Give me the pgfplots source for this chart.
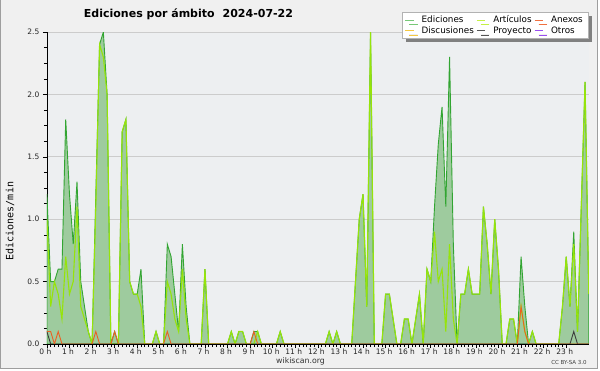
\documentclass[border=0pt]{standalone}
\usepackage{fontspec}
\setmainfont{DejaVu Sans}
\newfontfamily\monofont{DejaVu Sans Mono}
\usepackage{pgfplots}
\pgfplotsset{compat=1.18}
\usepackage{pgfplotstable}
\usetikzlibrary{shadows}

\definecolor{bgc}{RGB}{240,240,240}
\definecolor{plotbg}{RGB}{237,239,241}
\definecolor{gridc}{RGB}{204,204,204}
\definecolor{efill}{RGB}{158,203,158}
\definecolor{eline}{RGB}{50,165,50}
\definecolor{aline}{RGB}{150,228,10}
\definecolor{nline}{RGB}{235,95,35}
\definecolor{pline}{RGB}{60,60,60}
\definecolor{legE}{RGB}{120,200,120}
\definecolor{legD}{RGB}{245,200,66}
\definecolor{legA}{RGB}{197,240,70}
\definecolor{legP}{RGB}{85,85,85}
\definecolor{legN}{RGB}{240,112,64}
\definecolor{legO}{RGB}{154,78,240}

\pgfplotstableread{
k E A N P
0 1.2 1.0 0.1 0.1
1 0.5 0.3 0.1 0
2 0.5 0.5 0 0
3 0.6 0.4 0.1 0
4 0.6 0.2 0 0
5 1.8 0.7 0 0
6 1.2 0.4 0 0
7 0.8 0.5 0 0
8 1.3 1.1 0 0
9 0.5 0.3 0 0
10 0.3 0.2 0 0
11 0.1 0.1 0 0
12 0 0 0 0
13 1.2 1.1 0.1 0
14 2.4 2.4 0 0
15 2.5 2.3 0 0
16 2.0 2.0 0 0
17 0 0 0 0
18 0.1 0 0.1 0
19 0 0 0 0
20 1.7 1.7 0 0
21 1.8 1.8 0 0
22 0.5 0.5 0 0
23 0.4 0.4 0 0
24 0.4 0.4 0 0
25 0.6 0.3 0 0
26 0 0 0 0
27 0 0 0 0
28 0 0 0 0
29 0.1 0.1 0 0
30 0 0 0 0
31 0 0 0 0
32 0.8 0.5 0.1 0
33 0.7 0.4 0 0
34 0.4 0.2 0 0
35 0.1 0.1 0 0
36 0.8 0.6 0 0
37 0.3 0.2 0 0
38 0 0 0 0
39 0 0 0 0
40 0 0 0 0
41 0 0 0 0
42 0.6 0.6 0 0
43 0 0 0 0
44 0 0 0 0
45 0 0 0 0
46 0 0 0 0
47 0 0 0 0
48 0 0 0 0
49 0.1 0.1 0 0
50 0 0 0 0
51 0.1 0.1 0 0
52 0.1 0.1 0 0
53 0 0 0 0
54 0 0 0 0
55 0.1 0 0.1 0
56 0.1 0.1 0 0
57 0 0 0 0
58 0 0 0 0
59 0 0 0 0
60 0 0 0 0
61 0 0 0 0
62 0.1 0.1 0 0
63 0 0 0 0
64 0 0 0 0
65 0 0 0 0
66 0 0 0 0
67 0 0 0 0
68 0 0 0 0
69 0 0 0 0
70 0 0 0 0
71 0 0 0 0
72 0 0 0 0
73 0 0 0 0
74 0 0 0 0
75 0.1 0.1 0 0
76 0 0 0 0
77 0.1 0.1 0 0
78 0 0 0 0
79 0 0 0 0
80 0 0 0 0
81 0 0 0 0
82 0.5 0.5 0 0
83 1.0 1.0 0 0
84 1.2 1.2 0 0
85 0.3 0.3 0 0
86 2.5 2.5 0 0
87 0 0 0 0
88 0 0 0 0
89 0 0 0 0
90 0.4 0.4 0 0
91 0.4 0.4 0 0
92 0.2 0.2 0 0
93 0 0 0 0
94 0 0 0 0
95 0.2 0.2 0 0
96 0.2 0.2 0 0
97 0 0 0 0
98 0.2 0.2 0 0
99 0.4 0.4 0 0
100 0 0 0 0
101 0.6 0.6 0 0
102 0.5 0.5 0 0
103 1.1 0.9 0 0
104 1.6 0.5 0 0
105 1.9 0.6 0 0
106 1.1 0.1 0 0
107 2.3 0.8 0 0
108 0.8 0.2 0 0
109 0 0 0 0
110 0.4 0.4 0 0
111 0.4 0.4 0 0
112 0.6 0.6 0 0
113 0.4 0.4 0 0
114 0.4 0.4 0 0
115 0.4 0.4 0 0
116 1.1 1.1 0 0
117 0.8 0.8 0 0
118 0.4 0.4 0 0
119 1.0 1.0 0 0
120 0.6 0.6 0 0
121 0 0 0 0
122 0 0 0 0
123 0.2 0.2 0 0
124 0.2 0.2 0 0
125 0 0 0 0
126 0.7 0.3 0.3 0
127 0.3 0.1 0.1 0
128 0 0 0 0
129 0.1 0.1 0 0
130 0 0 0 0
131 0 0 0 0
132 0 0 0 0
133 0 0 0 0
134 0 0 0 0
135 0 0 0 0
136 0 0 0 0
137 0.3 0.3 0 0
138 0.7 0.7 0 0
139 0.3 0.3 0 0
140 0.9 0.8 0 0.1
141 0.1 0.1 0 0
142 1.1 1.1 0 0
143 2.1 2.1 0 0
144 0.4 0.4 0 0
}\data

\begin{document}
\begin{tikzpicture}[x=1pt,y=1pt]
\fill[white] (0,0) rectangle (600,370);
\fill[bgc] (0.6,1.6) rectangle (597.4,370);
\draw[black!38, line width=1.1pt] (0.6,370) -- (0.6,1.6) -- (597.4,1.6) -- (597.4,370);
\begin{axis}[
  at={(46.9pt,26pt)}, anchor=south west,
  scale only axis, width=541.9pt, height=312pt,
  xmin=0, xmax=144, ymin=0, ymax=2.5,
  axis x line*=bottom, axis y line*=left,
  axis line style={black, line width=0.8pt},
  axis background/.style={fill=plotbg},
  ymajorgrids, grid style={gridc, line width=0.8pt},
  ytick={0,0.5,1,1.5,2,2.5},
  yticklabels={0.0,0.5,1.0,1.5,2.0,2.5},
  minor y tick num=3,
  xtick={0,6,12,18,24,30,36,42,48,54,60,66,72,78,84,90,96,102,108,114,120,126,132,138},
  xticklabels={0 h,1 h,2 h,3 h,4 h,5 h,6 h,7 h,8 h,9 h,10 h,11 h,12 h,13 h,14 h,15 h,16 h,17 h,18 h,19 h,20 h,21 h,22 h,23 h},
  minor x tick num=5,
  tick align=outside,
  major tick length=4pt, minor tick length=3pt,
  tick style={black, line width=0.6pt},
  tick label style={font=\fontsize{7.5}{8}\selectfont, text=black!85},
  xticklabel style={yshift=2.5pt, xshift=-1.5pt},
  /pgf/number format/assume math mode=true,
  ylabel={Ediciones/min},
  ylabel style={font=\monofont\fontsize{10}{10}\selectfont, at={(axis description cs:-0.068,0.394)}, anchor=center},
  legend columns=3,
  legend image code/.code={\draw[#1, line width=0.9pt] (0pt,0pt) -- (8.5pt,0pt);},
  legend cell align=left,
  legend style={at={(0.9985,1.064)}, anchor=north east, draw=black!30, fill=white,
    font=\fontsize{8.8}{9}\selectfont, inner xsep=3pt, inner ysep=1.5pt, row sep=-1.5pt,
    /tikz/every odd column/.append style={column sep=5.5pt},
    /tikz/every even column/.append style={column sep=0.5pt},
    drop shadow={shadow xshift=4pt, shadow yshift=-4pt, fill=black!50, opacity=1}},
  clip=true,
]
\addlegendimage{legE}\addlegendentry{Ediciones}
\addlegendimage{legA}\addlegendentry{Artículos}
\addlegendimage{legN}\addlegendentry{Anexos}
\addlegendimage{legD}\addlegendentry{Discusiones}
\addlegendimage{legP}\addlegendentry{Proyecto}
\addlegendimage{legO}\addlegendentry{Otros}
\addplot[draw=eline, fill=efill, line width=0.9pt, forget plot] table[x=k,y=E]{\data} \closedcycle;
\addplot[aline, line width=1.1pt, forget plot] table[x=k,y=A]{\data};
\addplot[pline, line width=0.9pt, forget plot] table[x=k,y=P]{\data};
\addplot[nline, line width=0.9pt, forget plot] table[x=k,y=N]{\data};
\addplot[black, line width=0.8pt, forget plot] coordinates {(0,0) (144,0)};
\end{axis}
\node[font=\bfseries\fontsize{11}{11}\selectfont] at (188.5,356) {Ediciones por ámbito\hspace{8pt}2024-07-22};
\node[font=\fontsize{7.8}{8}\selectfont, text=black!80] at (300.5,9) {wikiscan.org};
\node[font=\fontsize{5.5}{6}\selectfont, text=black!75] at (569,8) {CC BY-SA 3.0};
\pgfresetboundingbox
\useasboundingbox (0,0) rectangle (600,370);
\end{tikzpicture}
\end{document}
